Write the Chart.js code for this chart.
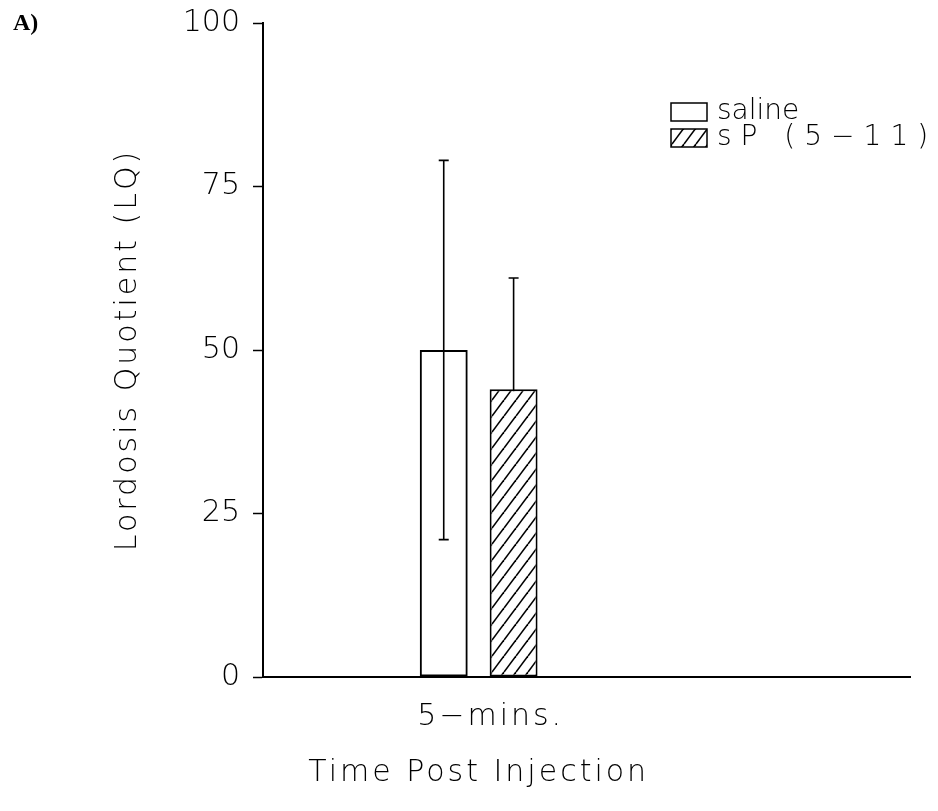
<!DOCTYPE html>
<html>
<head>
<meta charset="utf-8">
<script src="https://cdn.jsdelivr.net/npm/chart.js@4"></script>
<style>
  html, body { margin: 0; padding: 0; background: #fff; }
  #wrap { width: 938px; height: 811px; }
</style>
</head>
<body>
<div id="wrap"><canvas id="lqChart" width="938" height="811"></canvas></div>
<script>
const categories = ['', '5\u2212mins.', '', ''];
const salineMeans = [null, 50, null, null];
const salineErr = [null, 29, null, null];
const spMeans = [null, 44, null, null];
const spErr = [null, 17, null, null];
const yTicks = [0, 25, 50, 75, 100];
const seriesNames = ['saline', 'sP (5\u221211)'];
const xTitle = 'Time Post Injection';
const yTitle = 'Lordosis Quotient (LQ)';

const FONT = "'DejaVu Sans', sans-serif";
const ctx = document.getElementById('lqChart').getContext('2d');

function makeHatch() {
  const w = 12, h = 16;
  const c = document.createElement('canvas');
  c.width = w; c.height = h;
  const g = c.getContext('2d');
  g.fillStyle = '#fff';
  g.fillRect(0, 0, w, h);
  g.strokeStyle = '#000';
  g.lineWidth = 1.6;
  [-w, 0, w].forEach(dx => {
    g.beginPath();
    g.moveTo(dx, h);
    g.lineTo(dx + w, 0);
    g.stroke();
  });
  return ctx.createPattern(c, 'repeat');
}
const hatch = makeHatch();

// error bars go under the bars, so the hatched bar hides its lower whisker
const errorBars = {
  id: 'errorBars',
  beforeDatasetsDraw(chart) {
    const c = chart.ctx;
    const y = chart.scales.y;
    const errs = [salineErr, spErr];
    c.save();
    c.strokeStyle = '#000';
    c.lineWidth = 1.6;
    chart.data.datasets.forEach((ds, i) => {
      chart.getDatasetMeta(i).data.forEach((bar, j) => {
        const v = ds.data[j];
        if (v == null) return;
        const top = y.getPixelForValue(v + errs[i][j]);
        const bot = y.getPixelForValue(v - errs[i][j]);
        c.beginPath();
        c.moveTo(bar.x, top); c.lineTo(bar.x, bot);
        c.moveTo(bar.x - 5, top); c.lineTo(bar.x + 5, top);
        c.moveTo(bar.x - 5, bot); c.lineTo(bar.x + 5, bot);
        c.stroke();
      });
    });
    c.restore();
  }
};

// texts in the wide, spaced lettering of the original
const extras = {
  id: 'extras',
  afterDraw(chart) {
    const c = chart.ctx;
    const x = chart.scales.x;
    const area = chart.chartArea;
    c.save();
    c.fillStyle = '#000';
    c.font = "bold 24px 'Liberation Serif', serif";
    c.textAlign = 'left';
    c.textBaseline = 'top';
    c.fillText('A)', 13, 12);

    c.font = '200 30px ' + FONT;
    c.letterSpacing = '3px';
    c.textAlign = 'center';
    c.textBaseline = 'middle';
    categories.forEach((lab, i) => {
      if (lab) c.fillText(lab, x.getPixelForValue(i) + 12, 717);
    });
    c.fillText(xTitle, x.getPixelForValue(1), 773);

    c.save();
    c.translate(128, (area.top + area.bottom) / 2);
    c.rotate(-Math.PI / 2);
    c.fillText(yTitle, 0, 0);
    c.restore();

    // legend
    const fills = ['#fff', hatch];
    const spacing = ['0px', '9px'];
    c.font = '200 28px ' + FONT;
    c.textAlign = 'left';
    seriesNames.forEach((name, i) => {
      const yy = 112 + i * 26;
      c.fillStyle = fills[i];
      c.fillRect(671, yy - 9, 36, 18);
      c.strokeStyle = '#000';
      c.lineWidth = 1.5;
      c.strokeRect(671, yy - 9, 36, 18);
      c.fillStyle = '#000';
      c.letterSpacing = spacing[i];
      c.fillText(name, 717, yy);
    });
    c.restore();
  }
};

new Chart(ctx, {
  type: 'bar',
  data: {
    labels: categories,
    datasets: [{
      label: seriesNames[0],
      data: salineMeans,
      backgroundColor: 'rgba(0,0,0,0)',
      borderColor: '#000',
      borderWidth: 2,
      borderSkipped: false
    }, {
      label: seriesNames[1],
      data: spMeans,
      backgroundColor: hatch,
      borderColor: '#000',
      borderWidth: 2,
      borderSkipped: false
    }]
  },
  options: {
    responsive: false,
    animation: false,
    events: [],
    categoryPercentage: 0.648,
    barPercentage: 0.686,
    layout: { padding: { top: 23, right: 28, left: 0, bottom: 0 } },
    plugins: {
      legend: { display: false },
      tooltip: { enabled: false }
    },
    scales: {
      x: {
        offset: false,
        grid: { display: false },
        border: { display: true, color: '#000', width: 2 },
        ticks: { display: false },
        afterFit(scale) { scale.height = 134; }
      },
      y: {
        min: 0,
        max: 100,
        afterBuildTicks(scale) { scale.ticks = yTicks.map(v => ({ value: v })); },
        grid: { drawOnChartArea: false, drawTicks: true, tickLength: 10, tickColor: '#000', tickWidth: 1.5 },
        border: { display: true, color: '#000', width: 2 },
        ticks: {
          color: '#000',
          font: { family: FONT, size: 30, weight: '200' },
          padding: 13
        },
        afterFit(scale) {
          scale.width = 263;
          scale.paddingTop = 0;
          scale.paddingBottom = 0;
        }
      }
    }
  },
  plugins: [errorBars, extras]
});
</script>
</body>
</html>
